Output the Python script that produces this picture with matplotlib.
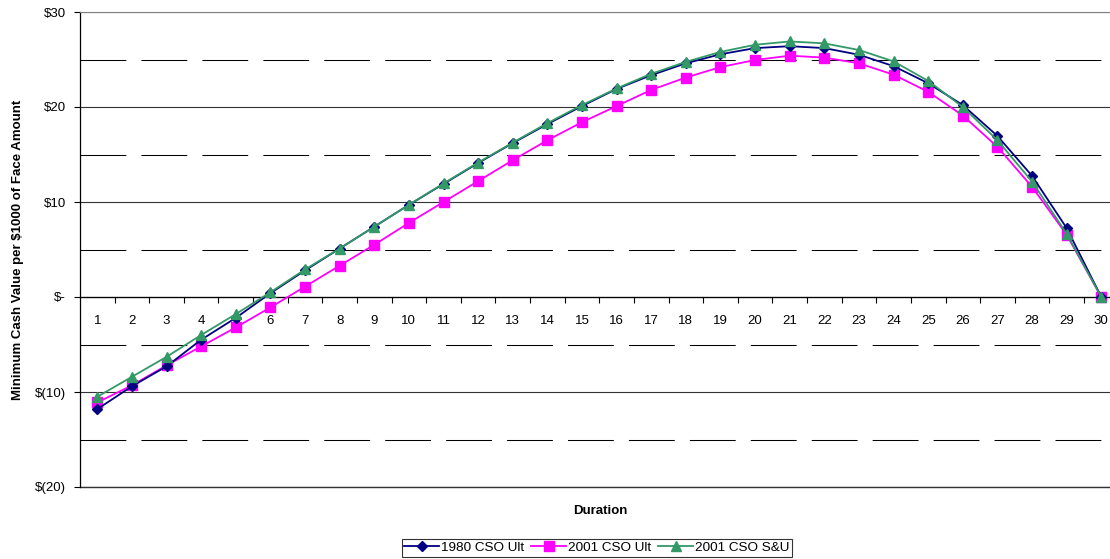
#*********** MINIMUM CASH VALUE CHART ***********

import matplotlib
matplotlib.use('Agg')
import matplotlib.pyplot as plt
from matplotlib.ticker import FixedLocator

plt.rcParams['font.family'] = ['Liberation Sans', 'DejaVu Sans']

#data
durations = list(range(1, 31))
cso1980_ult = [-11.8, -9.4, -7.3, -4.5, -2.2, 0.4, 2.8, 5.1, 7.4, 9.7,
               11.9, 14.1, 16.2, 18.2, 20.1, 21.9, 23.35, 24.6, 25.55, 26.2,
               26.4, 26.2, 25.5, 24.3, 22.5, 20.2, 16.95, 12.75, 7.25, 0.0]
cso2001_ult = [-11.1, -9.3, -7.2, -5.2, -3.2, -1.1, 1.1, 3.3, 5.5, 7.8,
               10.0, 12.2, 14.4, 16.5, 18.4, 20.1, 21.8, 23.1, 24.2, 24.95,
               25.4, 25.2, 24.6, 23.4, 21.6, 19.1, 15.8, 11.6, 6.55, 0.0]
cso2001_su = [-10.5, -8.4, -6.3, -4.0, -1.8, 0.5, 2.9, 5.1, 7.4, 9.7,
              11.95, 14.15, 16.25, 18.3, 20.2, 21.95, 23.5, 24.75, 25.8, 26.55,
              26.9, 26.7, 26.0, 24.8, 22.75, 20.0, 16.5, 12.15, 6.65, 0.0]
series_names = ['1980 CSO Ult', '2001 CSO Ult', '2001 CSO S&U']
y_ticks = [-20, -10, 0, 10, 20, 30]
y_labels = ['$(20)', '$(10)', '$-', '$10', '$20', '$30']

fig = plt.figure(figsize=(11.1, 5.59), dpi=100)
ax = fig.add_axes([80/1110, 72/559, 1038.6/1110, 475/559])

ax.plot(durations, cso1980_ult, color='#000080', marker='D', markersize=5,
        linewidth=1.3, label=series_names[0], zorder=5)
ax.plot(durations, cso2001_ult, color='#FF00FF', marker='s', markersize=6.5,
        linewidth=1.3, label=series_names[1], zorder=4)
ax.plot(durations, cso2001_su, color='#339966', marker='^', markersize=7,
        linewidth=1.3, label=series_names[2], zorder=6)

ax.set_xlim(0.5, 30.5)
ax.set_ylim(-20, 30)

#y axis
ax.yaxis.set_major_locator(FixedLocator(y_ticks))
ax.set_yticklabels(y_labels)
ax.yaxis.set_minor_locator(FixedLocator([-15, -5, 5, 15, 25]))
ax.tick_params(axis='y', which='major', direction='out', length=4, width=0.8,
               pad=6, labelsize=9.5, color='black')
ax.tick_params(axis='y', which='minor', length=0)
ax.grid(axis='y', which='major', color='#333333', linewidth=0.8)
ax.grid(axis='y', which='minor', color='black', linewidth=0.75,
        linestyle=(0, (44, 14.5)))

#x axis at zero with category labels
ax.spines['bottom'].set_position(('data', 0))
ax.spines['bottom'].set_linewidth(0.9)
ax.xaxis.set_major_locator(FixedLocator([d + 0.5 for d in durations[:-1]]))
ax.xaxis.set_minor_locator(FixedLocator(durations))
ax.xaxis.set_major_formatter(plt.NullFormatter())
ax.xaxis.set_minor_formatter(plt.FixedFormatter([str(d) for d in durations]))
ax.tick_params(axis='x', which='major', direction='out', length=4, width=0.8)
ax.tick_params(axis='x', which='minor', length=0, pad=13, labelsize=9.5)

ax.spines['top'].set_color('#808080')
ax.spines['right'].set_visible(False)
ax.spines['left'].set_linewidth(0.9)
ax.axhline(-20, color='#333333', linewidth=1.0, clip_on=False)

ax.set_ylabel('Minimum Cash Value per $1000 of Face Amount', fontsize=9.5,
              fontweight='bold', labelpad=8)
fig.text(600/1110, 1 - 511/559, 'Duration', fontsize=9.5, fontweight='bold',
         ha='center', va='center')

leg = fig.legend(loc='center', bbox_to_anchor=(597/1110, 1 - 548/559),
                 ncol=3, fontsize=9.7, frameon=True, fancybox=False,
                 handlelength=2.6, handletextpad=0.15, columnspacing=0.5,
                 borderpad=0.2, borderaxespad=0)
leg.get_frame().set_edgecolor('black')
leg.get_frame().set_linewidth(0.8)

fig.savefig('out.png', dpi=100)
